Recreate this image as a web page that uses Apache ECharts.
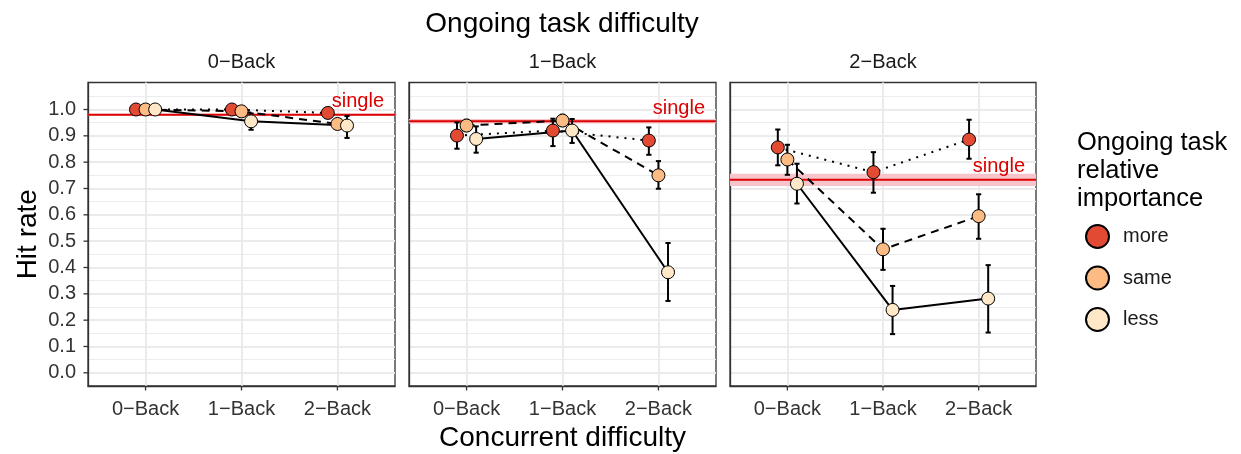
<!DOCTYPE html>
<html><head><meta charset="utf-8">
<script src="https://cdn.jsdelivr.net/npm/echarts@6/dist/echarts.min.js"></script>
<style>html,body{margin:0;padding:0;background:#fff}#c{width:1241px;height:454px}</style>
</head><body><div id="c"></div>
<script>
const FONT = '"Liberation Sans", Arial, Helvetica, sans-serif';
const concurrent = ['0−Back', '1−Back', '2−Back'];
const ongoing = ['0−Back', '1−Back', '2−Back'];
const groups = ['more', 'same', 'less'];
const groupColors = ['#E34A33', '#FDBB84', '#FEE8C8'];
const yTickValues = [0.0, 0.1, 0.2, 0.3, 0.4, 0.5, 0.6, 0.7, 0.8, 0.9, 1.0];
const yMinorValues = [0.05, 0.15, 0.25, 0.35, 0.45, 0.55, 0.65, 0.75, 0.85, 0.95, 1.05];

// Ongoing 0-Back
const p0More = [1.000, 1.000, 0.987];
const p0MoreLo = [0.995, 0.993, 0.978];
const p0MoreHi = [1.000, 1.000, 0.996];
const p0Same = [1.000, 0.993, 0.945];
const p0SameLo = [0.995, 0.982, 0.928];
const p0SameHi = [1.000, 1.000, 0.962];
const p0Less = [1.000, 0.955, 0.939];
const p0LessLo = [0.995, 0.923, 0.892];
const p0LessHi = [1.000, 0.985, 0.975];

// Ongoing 1-Back
const p1More = [0.901, 0.920, 0.882];
const p1MoreLo = [0.851, 0.861, 0.828];
const p1MoreHi = [0.951, 0.965, 0.932];
const p1Same = [0.939, 0.958, 0.750];
const p1SameLo = [0.918, 0.937, 0.699];
const p1SameHi = [0.961, 0.980, 0.804];
const p1Less = [0.888, 0.920, 0.382];
const p1LessLo = [0.836, 0.873, 0.273];
const p1LessHi = [0.936, 0.964, 0.493];

// Ongoing 2-Back
const p2More = [0.856, 0.762, 0.886];
const p2MoreLo = [0.788, 0.684, 0.813];
const p2MoreHi = [0.924, 0.838, 0.961];
const p2Same = [0.810, 0.469, 0.595];
const p2SameLo = [0.752, 0.391, 0.509];
const p2SameHi = [0.866, 0.547, 0.678];
const p2Less = [0.718, 0.239, 0.282];
const p2LessLo = [0.643, 0.147, 0.153];
const p2LessHi = [0.794, 0.330, 0.409];

// single-task baseline per ongoing difficulty
const singleMean = [0.980, 0.955, 0.733];
const singleLo = [0.976, 0.947, 0.709];
const singleHi = [0.984, 0.964, 0.756];

const means = [[p0More, p0Same, p0Less], [p1More, p1Same, p1Less], [p2More, p2Same, p2Less]];
const lows = [[p0MoreLo, p0SameLo, p0LessLo], [p1MoreLo, p1SameLo, p1LessLo], [p2MoreLo, p2SameLo, p2LessLo]];
const highs = [[p0MoreHi, p0SameHi, p0LessHi], [p1MoreHi, p1SameHi, p1LessHi], [p2MoreHi, p2SameHi, p2LessHi]];

const dodge = [-0.1, 0, 0.1];
const lineTypes = [[2, 6], [8, 6], 'solid'];
const gridLefts = [88, 409, 730];
const gridWidths = [307, 307, 306];
const GRID_TOP = 82.5, GRID_H = 303.5;
const Y_MIN = -0.05, Y_MAX = 1.1025;
const TICK_LEN = 4.5;
const AXIS_LINE = { show: true, onZero: false, lineStyle: { color: '#333', width: 1.3 } };

const chart = echarts.init(document.getElementById('c'), null, { renderer: 'canvas' });

const grids = [], xAxes = [], yAxes = [], series = [];
for (let p = 0; p < 3; p++) {
  grids.push({ left: gridLefts[p], top: GRID_TOP, width: gridWidths[p], height: GRID_H,
    show: true, borderColor: '#333', borderWidth: 1.3, backgroundColor: 'transparent',
    containLabel: false, outerBoundsMode: 'none' });
  xAxes.push({ gridIndex: p, type: 'value', min: -0.6, max: 2.6, position: 'bottom',
    axisLine: AXIS_LINE,
    axisTick: { show: false, customValues: [0, 1, 2] },
    axisLabel: { show: true, customValues: [0, 1, 2], formatter: v => concurrent[Math.round(v)],
      fontSize: 20, fontFamily: FONT, color: '#333', margin: 13 },
    splitLine: { show: true, lineStyle: { color: '#EBEBEB', width: 2 } },
    name: p === 1 ? 'Concurrent difficulty' : '', nameLocation: 'middle', nameGap: 38,
    nameTextStyle: { fontSize: 28, fontFamily: FONT, color: '#000' } });
  // major y
  yAxes.push({ gridIndex: p, type: 'value', min: Y_MIN, max: Y_MAX, position: 'left',
    axisLine: AXIS_LINE,
    axisTick: { show: false, customValues: yTickValues },
    axisLabel: { show: p === 0, customValues: yTickValues, formatter: v => v.toFixed(1),
      fontSize: 20, fontFamily: FONT, color: '#333', margin: 12 },
    splitLine: { show: true, lineStyle: { color: '#EBEBEB', width: 2 } },
    name: p === 0 ? 'Hit rate' : '', nameLocation: 'middle', nameGap: 46,
    nameTextStyle: { fontSize: 28, fontFamily: FONT, color: '#000' } });
  // minor y (grid lines only)
  yAxes.push({ gridIndex: p, type: 'value', min: Y_MIN, max: Y_MAX, position: 'left', offset: 0,
    axisLine: { show: false, onZero: false },
    axisTick: { show: false, customValues: yMinorValues },
    axisLabel: { show: false, customValues: yMinorValues },
    splitLine: { show: true, lineStyle: { color: '#EDEDED', width: 1.2 } } });
}

function renderSingle(params, api) {
  const cs = params.coordSys;
  const yMid = api.coord([0, api.value(1)])[1];
  const yLo = api.coord([0, api.value(2)])[1];
  const yHi = api.coord([0, api.value(3)])[1];
  return { type: 'group', children: [
    { type: 'rect', shape: { x: cs.x, y: yHi, width: cs.width, height: yLo - yHi }, style: { fill: '#F8C4CC' } },
    { type: 'line', shape: { x1: cs.x, y1: yMid, x2: cs.x + cs.width, y2: yMid }, style: { stroke: '#DD0000', lineWidth: 2 } },
    { type: 'text', style: { text: 'single', x: cs.x + cs.width - 11, y: yMid - 13, align: 'right', verticalAlign: 'middle',
      fill: '#DD0000', font: '20px ' + FONT } }
  ] };
}

function renderErr(params, api) {
  const x = api.value(0);
  const a = api.coord([x, api.value(1)]);
  const b = api.coord([x, api.value(2)]);
  const w = 2.6;
  const st = { stroke: '#000', lineWidth: 2 };
  return { type: 'group', children: [
    { type: 'line', shape: { x1: a[0], y1: a[1], x2: b[0], y2: b[1] }, style: st },
    { type: 'line', shape: { x1: a[0] - w, y1: a[1], x2: a[0] + w, y2: a[1] }, style: st },
    { type: 'line', shape: { x1: b[0] - w, y1: b[1], x2: b[0] + w, y2: b[1] }, style: st }
  ] };
}

// outward axis tick marks, positioned through the axis scales
function renderXTick(params, api) {
  const cs = params.coordSys;
  const x = api.coord([api.value(0), 0])[0];
  const yb = cs.y + cs.height;
  return { type: 'line', shape: { x1: x, y1: yb, x2: x, y2: yb + TICK_LEN }, style: { stroke: '#333', lineWidth: 1.3 } };
}
function renderYTick(params, api) {
  const cs = params.coordSys;
  const y = api.coord([0, api.value(0)])[1];
  return { type: 'line', shape: { x1: cs.x - TICK_LEN, y1: y, x2: cs.x, y2: y }, style: { stroke: '#333', lineWidth: 1.3 } };
}

for (let p = 0; p < 3; p++) {
  series.push({ type: 'custom', name: 'single' + p, xAxisIndex: p, yAxisIndex: 2 * p, silent: true, z: 1,
    renderItem: renderSingle, encode: { x: 0, y: 1 },
    data: [[1, singleMean[p], singleLo[p], singleHi[p]]] });
  series.push({ type: 'custom', name: 'xticks' + p, xAxisIndex: p, yAxisIndex: 2 * p, silent: true, z: 1, clip: false,
    renderItem: renderXTick, encode: { x: 0 },
    data: concurrent.map((c, i) => [i]) });
  if (p === 0) {
    series.push({ type: 'custom', name: 'yticks' + p, xAxisIndex: p, yAxisIndex: 2 * p, silent: true, z: 1, clip: false,
      renderItem: renderYTick, encode: { y: 0 },
      data: yTickValues.map(v => [v]) });
  }
  for (let g = 0; g < 3; g++) {
    series.push({ type: 'line', name: groups[g] + '-line' + p, xAxisIndex: p, yAxisIndex: 2 * p, z: 2,
      symbol: 'none', silent: true, animation: false,
      lineStyle: { color: '#000', width: 2, type: lineTypes[g], cap: 'butt' },
      data: means[p][g].map((v, i) => [i + dodge[g], v]) });
  }
  for (let g = 0; g < 3; g++) {
    series.push({ type: 'custom', name: groups[g] + '-err' + p, xAxisIndex: p, yAxisIndex: 2 * p, z: 3, silent: true,
      renderItem: renderErr, encode: { x: 0, y: [1, 2] },
      data: lows[p][g].map((lo, i) => [i + dodge[g], lo, highs[p][g][i]]) });
  }
  for (let g = 0; g < 3; g++) {
    series.push({ type: 'scatter', name: groups[g], xAxisIndex: p, yAxisIndex: 2 * p, z: 4,
      symbol: 'circle', symbolSize: 13, animation: false,
      itemStyle: { color: groupColors[g], borderColor: '#000', borderWidth: 1, opacity: 1 },
      data: means[p][g].map((v, i) => [i + dodge[g], v]) });
  }
}

const panelCenters = gridLefts.map((l, i) => l + gridWidths[i] / 2);
const graphics = [
  { type: 'text', x: (gridLefts[0] + gridLefts[2] + gridWidths[2]) / 2, y: 24,
    style: { text: 'Ongoing task difficulty', font: '28px ' + FONT, fill: '#000', align: 'center', verticalAlign: 'middle' } },
  { type: 'text', x: 1077, y: 129,
    style: { text: 'Ongoing task\nrelative\nimportance', font: '25.5px ' + FONT, lineHeight: 28, fill: '#000', align: 'left', verticalAlign: 'top' } }
];
ongoing.forEach((t, i) => graphics.push({ type: 'text', x: panelCenters[i], y: 62,
  style: { text: t, font: '20px ' + FONT, fill: '#1A1A1A', align: 'center', verticalAlign: 'middle' } }));

chart.setOption({
  animation: false,
  backgroundColor: '#fff',
  grid: grids, xAxis: xAxes, yAxis: yAxes, series: series,
  legend: { orient: 'vertical', left: 1085, top: 224, padding: 0, itemWidth: 23, itemHeight: 23, itemGap: 16.5,
    icon: 'circle', data: groups, selectedMode: false,
    textStyle: { fontSize: 20, fontFamily: FONT, color: '#1A1A1A', padding: [0, 0, 0, 9] } },
  graphic: graphics
});
</script></body></html>
